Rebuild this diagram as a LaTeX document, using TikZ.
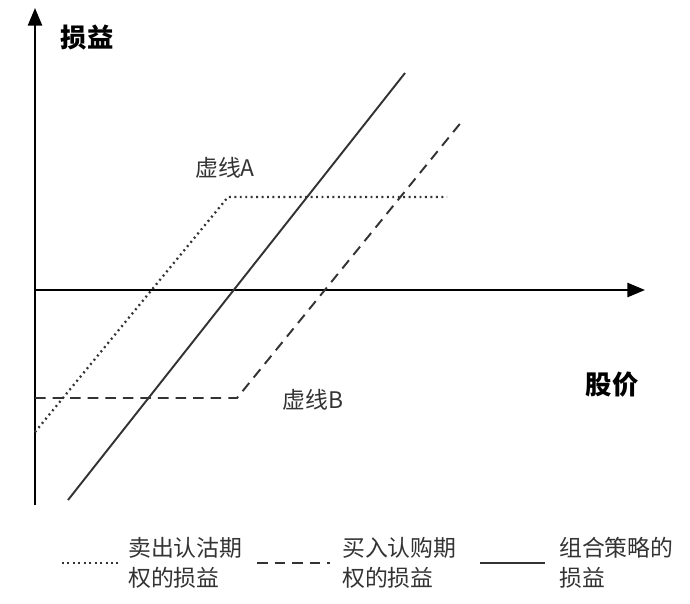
\documentclass[tikz,border=0pt]{standalone}
\usepackage{fontspec}
\setmainfont{Noto Sans CJK SC}
\usetikzlibrary{arrows.meta}
\begin{document}
\begin{tikzpicture}[x=0.02cm,y=-0.02cm,
  ln/.style={line width=1.1pt,color=black!80},
  lbl/.style={font=\fontsize{13}{16}\selectfont,color=black!80},
  ttl/.style={font=\bfseries\fontsize{15}{18}\selectfont},
  leg/.style={font=\fontsize{13}{17}\selectfont,align=left,anchor=west,color=black!80}]
\useasboundingbox (0,0) rectangle (690,603);
\coordinate (o) at (35,505);
\coordinate (yt) at (35,8);
\coordinate (xl) at (35,290);
\coordinate (xr) at (645,290);
\draw[line width=1.3pt,-{Triangle[length=10pt,width=8pt]}] (o) -- (yt);
\draw[line width=1.3pt,-{Triangle[length=10pt,width=8pt]}] (xl) -- (xr);
\coordinate (s1) at (68,500); \coordinate (s2) at (405,73);
\draw[ln] (s1) -- (s2);
\coordinate (a1) at (35,432); \coordinate (a2) at (228,197); \coordinate (a3) at (447,197);
\draw[ln,dotted,line width=1.3pt] (a1) -- (a2) -- (a3);
\coordinate (b1) at (35,398); \coordinate (b2) at (237,398); \coordinate (b3) at (463,120);
\draw[ln,dash pattern=on 6pt off 4pt] (b1) -- (b2) -- (b3);
\node[ttl] (yl) at (87,38) {损益};
\node[ttl] (xlab) at (612,385) {股价};
\node[lbl] (la) at (225,168) {虚线A};
\node[lbl] (lb) at (313,400) {虚线B};
\coordinate (l1a) at (62,563); \coordinate (l1b) at (118,563);
\draw[ln,dotted,line width=1.3pt] (l1a) -- (l1b);
\node[leg] (t1) at (122,563) {卖出认沽期\\权的损益};
\coordinate (l2a) at (257,563); \coordinate (l2b) at (330,563);
\draw[ln,dash pattern=on 6pt off 4pt] (l2a) -- (l2b);
\node[leg] (t2) at (336,563) {买入认购期\\权的损益};
\coordinate (l3a) at (480,563); \coordinate (l3b) at (545,563);
\draw[ln] (l3a) -- (l3b);
\node[leg] (t3) at (553,563) {组合策略的\\损益};
\end{tikzpicture}
\end{document}
